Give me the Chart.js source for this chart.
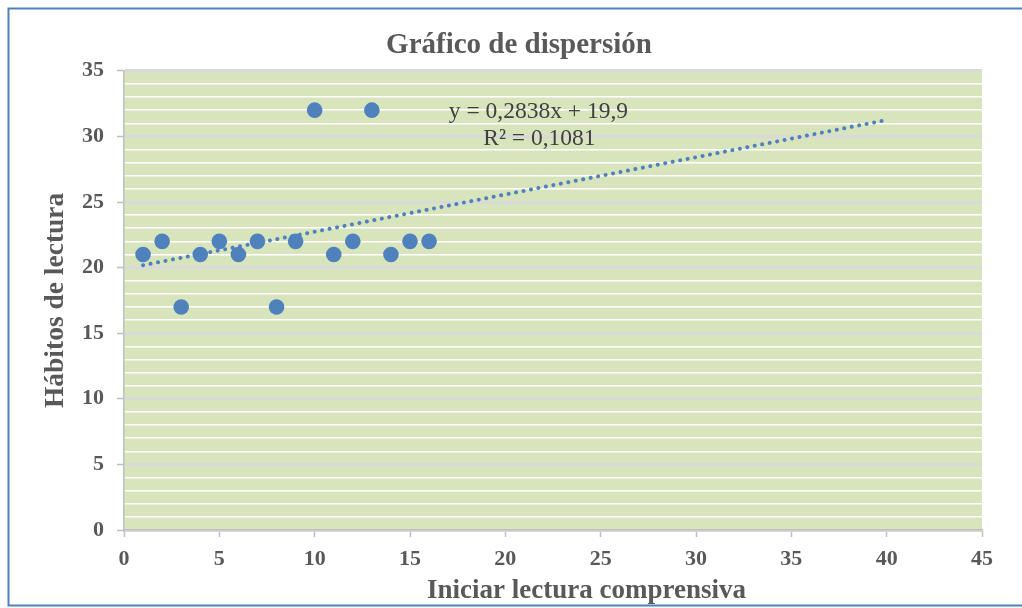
<!DOCTYPE html>
<html>
<head>
<meta charset="utf-8">
<script src="https://cdn.jsdelivr.net/npm/chart.js@4/dist/chart.umd.min.js"></script>
<style>
  html, body { margin: 0; padding: 0; background: #ffffff; }
  #wrap { width: 1022px; height: 608px; position: relative; }
</style>
</head>
<body>
<div id="wrap"><canvas id="c" width="1022" height="608"></canvas></div>
<script>
// ---- data ----
const xValues = [1, 2, 3, 4, 5, 6, 7, 8, 9, 10, 11, 12, 13, 14, 15, 16];
const yValues = [21, 22, 17, 21, 22, 21, 22, 17, 22, 32, 21, 22, 32, 21, 22, 22];
const trendX = [1, 40];
const trendY = [20.18, 31.25];
const equationLines = ['y = 0,2838x + 19,9', 'R² = 0,1081'];
const chartTitle = 'Gráfico de dispersión';
const xTitle = 'Iniciar lectura comprensiva';
const yTitle = 'Hábitos de lectura';

const points = xValues.map((x, i) => ({ x: x, y: yValues[i] }));
const trend = trendX.map((x, i) => ({ x: x, y: trendY[i] }));

const TEXT = '#595959';
const SERIF = '"Liberation Serif", "Times New Roman", serif';

const decor = {
  id: 'decor',
  beforeDraw(chart) {
    const ctx = chart.ctx;
    const a = chart.chartArea;
    ctx.save();
    ctx.fillStyle = '#ffffff';
    ctx.fillRect(0, 0, chart.width, chart.height);
    ctx.fillStyle = '#d8e4bc';
    ctx.fillRect(a.left, a.top, a.right - a.left, a.bottom - a.top);
    ctx.strokeStyle = '#4f81bd';
    ctx.lineWidth = 2;
    ctx.beginPath();
    ctx.moveTo(chart.width + 5, 8.5);
    ctx.lineTo(8.5, 8.5);
    ctx.lineTo(8.5, 605.5);
    ctx.lineTo(chart.width + 5, 605.5);
    ctx.stroke();
    ctx.restore();
  },
  afterDraw(chart) {
    const ctx = chart.ctx;
    const a = chart.chartArea;
    ctx.save();
    ctx.textAlign = 'center';
    ctx.textBaseline = 'middle';
    // x-axis title
    ctx.fillStyle = TEXT;
    ctx.font = 'bold 27px ' + SERIF;
    ctx.fillText(xTitle, a.left + (a.right - a.left) * 0.539, a.bottom + 61);
    // trendline equation
    ctx.fillStyle = '#404040';
    ctx.font = '23.5px ' + SERIF;
    const cx = a.left + (a.right - a.left) * 0.483;
    ctx.fillText(equationLines[0], cx, a.top + 41);
    ctx.fillText(equationLines[1], cx + 1, a.top + 68);
    ctx.restore();
  }
};

new Chart(document.getElementById('c'), {
  type: 'scatter',
  data: {
    datasets: [
      {
        label: 'Lineal',
        data: trend,
        showLine: true,
        order: 0,
        borderColor: '#4f81bd',
        borderWidth: 4,
        borderDash: [0.1, 7.5],
        borderCapStyle: 'round',
        pointRadius: 0,
        fill: false
      },
      {
        label: 'Datos',
        data: points,
        order: 1,
        backgroundColor: '#4f81bd',
        borderColor: '#4f81bd',
        pointRadius: 7.8,
        pointHoverRadius: 7.8,
        borderWidth: 0
      }
    ]
  },
  options: {
    responsive: false,
    animation: false,
    events: [],
    layout: { padding: { left: 16, right: 0, top: 0, bottom: 0 } },
    plugins: {
      legend: { display: false },
      tooltip: { enabled: false },
      title: {
        display: true,
        text: chartTitle,
        color: TEXT,
        font: { family: SERIF, size: 29, weight: 'bold', lineHeight: 1.2 },
        padding: { top: 28, bottom: 8 }
      }
    },
    scales: {
      x: {
        type: 'linear',
        min: 0,
        max: 45,
        afterFit(scale) { scale.height = 78; },
        ticks: {
          stepSize: 5,
          color: TEXT,
          padding: 9,
          font: { family: SERIF, size: 22, weight: 'bold' }
        },
        grid: {
          drawOnChartArea: false,
          drawTicks: true,
          tickLength: 7,
          tickColor: '#bfbfbf',
          tickWidth: 1.5
        },
        border: { color: '#bfbfbf', width: 1.5 },
        title: { display: false }
      },
      y: {
        type: 'linear',
        min: 0,
        max: 35,
        afterFit(scale) { scale.width = 108; },
        ticks: {
          stepSize: 1,
          autoSkip: false,
          color: TEXT,
          padding: 13,
          font: { family: SERIF, size: 22, weight: 'bold' },
          callback: (v) => (v % 5 === 0 ? String(v) : '')
        },
        grid: {
          color: (c) => (c.tick && c.tick.value % 5 === 0 ? '#d9d9d9' : '#ffffff'),
          lineWidth: (c) => (c.tick && c.tick.value % 5 === 0 ? 3 : 1.5),
          tickColor: (c) => (c.tick && c.tick.value % 5 === 0 ? '#bfbfbf' : 'rgba(0,0,0,0)'),
          tickWidth: 1.5,
          tickLength: 7,
          drawTicks: true
        },
        border: { color: '#bfbfbf', width: 1.5 },
        title: {
          display: true,
          text: yTitle,
          color: TEXT,
          font: { family: SERIF, size: 27.5, weight: 'bold', lineHeight: 1.2 },
          padding: { top: 23, bottom: 0 }
        }
      },
      yRight: {
        type: 'linear',
        position: 'right',
        min: 0,
        max: 35,
        afterFit(scale) { scale.width = 40; },
        ticks: { display: false },
        grid: { display: false, drawOnChartArea: false, drawTicks: false },
        border: { display: false },
        title: { display: false }
      }
    }
  },
  plugins: [decor]
});
</script>
</body>
</html>
